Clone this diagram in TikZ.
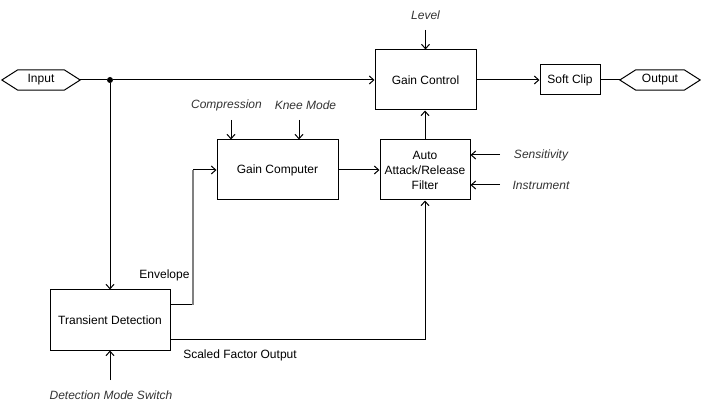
\documentclass[tikz,border=0pt]{standalone}
\usepackage{fontspec}
\setmainfont{Liberation Sans}
\usetikzlibrary{arrows.meta,calc}
\definecolor{lbl}{HTML}{333333}
\definecolor{env}{HTML}{808080}
\tikzset{
  box/.style={draw, line width=1pt, inner sep=0pt, align=center, font=\fontsize{12}{15}\selectfont},
  hexnode/.style={inner sep=0pt, minimum height=20pt, font=\fontsize{12}{15}\selectfont},
  lab/.style={inner sep=0pt, text=lbl, font=\fontsize{12}{15}\selectfont\itshape},
  plain/.style={inner sep=0pt, font=\fontsize{12}{15}\selectfont},
  conn/.style={line width=1pt},
  arr/.style={line width=1pt, -{Straight Barb[length=4.5pt,width=8pt,line width=1pt]}},
  dotnode/.style={circle, fill=black, inner sep=0pt, minimum size=6pt}
}
\begin{document}
\begin{tikzpicture}[x=1pt,y=-1pt]
\useasboundingbox (0,0) rectangle (701,411);

% hexagon terminals
\node[hexnode, minimum width=78pt] (in) at (41,80) {Input};
\draw[conn] ([xshift=16pt]in.north west) -- ([xshift=-16pt]in.north east) -- (in.east)
  -- ([xshift=-16pt]in.south east) -- ([xshift=16pt]in.south west) -- (in.west) -- cycle;
\node[hexnode, minimum width=80pt] (out) at (660,80) {Output};
\draw[conn] ([xshift=16pt]out.north west) -- ([xshift=-16pt]out.north east) -- (out.east)
  -- ([xshift=-16pt]out.south east) -- ([xshift=16pt]out.south west) -- (out.west) -- cycle;

% boxes
\node[box, minimum width=101pt, minimum height=60pt] (gc) at (425.5,80) {Gain Control};
\node[box, minimum width=60pt, minimum height=30pt] (sc) at (570,80) {Soft Clip};
\node[box, minimum width=121pt, minimum height=60pt] (gcomp) at (277.5,170) {Gain Computer};
\node[box, minimum width=90pt, minimum height=60pt] (filt) at (425,170) {Auto\\Attack/Release\\Filter};
\node[box, minimum width=120pt, minimum height=60pt] (td) at (110,320) {Transient Detection};

% junction
\node[dotnode] (j) at (110,80) {};

% parameter labels
\node[lab] (lvl) at (425.5,15) {Level};
\node[lab] (comp) at (226.5,105) {Compression};
\node[lab] (knee) at (305.5,105) {Knee Mode};
\node[lab] (sens) at (541,155) {Sensitivity};
\node[lab] (inst) at (541,185) {Instrument};
\node[lab] (dms) at (111,395) {Detection Mode Switch};
\node[plain] (envl) at (164.5,275) {Envelope};
\node[plain] (sfo) at (240,355) {Scaled Factor Output};

% coordinates for free ends and bends
\coordinate (lvlc) at (425.5,30);
\coordinate (compc) at (231,120);
\coordinate (kneec) at (299,120);
\coordinate (sensc) at (500,155);
\coordinate (instc) at (500,185);
\coordinate (dmsc) at (110,380);
\coordinate (e1) at (193,305);
\coordinate (e2) at (193,170);
\coordinate (s1) at (425,340);

% connectors
\draw[conn] (in.east) -- (j);
\draw[arr] (j) -- (gc.west);
\draw[arr] (j) -- (td.north);
\draw[arr] (gc.east) -- (sc.west);
\draw[conn] (sc.east) -- (out.west);
\draw[arr] (lvlc) -- (gc.north);
\draw[arr] (filt.north) -- (filt.north |- gc.south);
\draw[arr] (compc) -- (compc |- gcomp.north);
\draw[arr] (kneec) -- (kneec |- gcomp.north);
\draw[arr] (gcomp.east) -- (filt.west);
\draw[arr] (sensc) -- (sensc -| filt.east);
\draw[arr] (instc) -- (instc -| filt.east);
\draw[conn] (td.east |- e1) -- (e1);
\draw[line width=2pt, env] (e1) -- (e2);
\draw[arr] (e2) -- (gcomp.west);
\draw[arr] (td.east |- s1) -- (s1) -- (filt.south);
\draw[arr] (dmsc) -- (td.south);
\end{tikzpicture}
\end{document}
